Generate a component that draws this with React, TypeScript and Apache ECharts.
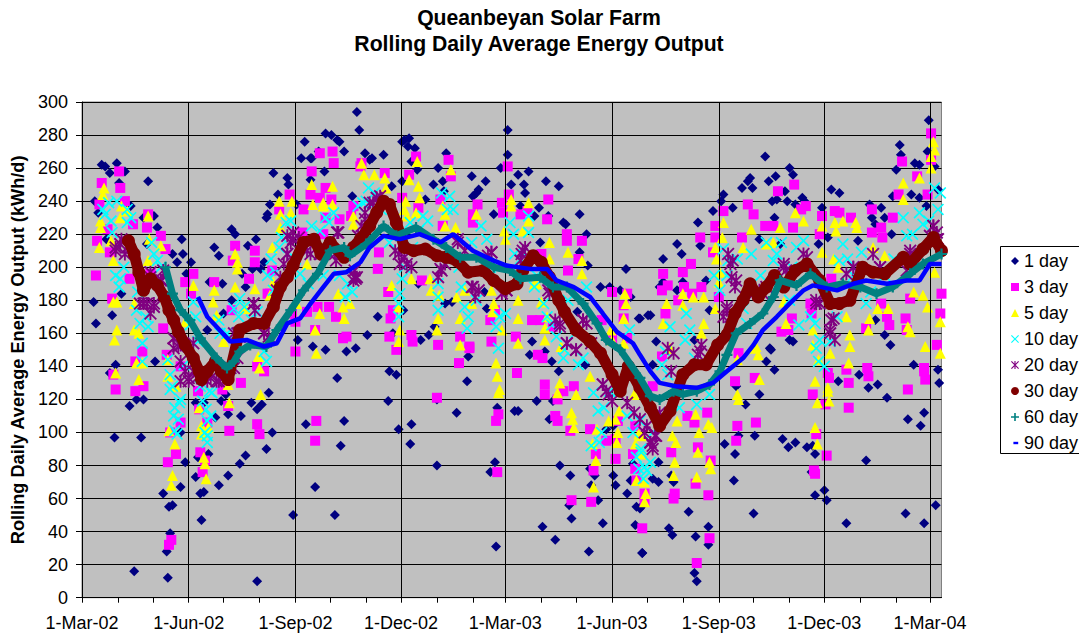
import React, { useEffect, useRef } from "react";
import * as echarts from "echarts";

const TICK_DAYS = [0, 92, 184, 275, 365, 457, 549, 640, 731];
const TICK_LABELS = ["1-Mar-02", "1-Jun-02", "1-Sep-02", "1-Dec-02", "1-Mar-03", "1-Jun-03", "1-Sep-03", "1-Dec-03", "1-Mar-04"];
const MONTH_DAYS = [0, 31, 61, 92, 122, 153, 184, 214, 245, 275, 306, 337, 365, 396, 426, 457, 487, 518, 549, 579, 610, 640, 671, 702, 731];
const SERIES_NAMES = ["1 day", "3 day", "5 day", "10 day", "20 day", "30 day", "60 day", "90 day"];

const day1 = [[17,262],[20,261],[24,257],[30,263],[37,258],[32,251],[57,252],[11,240],[14,233],[42,237],[53,230],[62,231],[65,224],[21,217],[56,214],[86,217],[78,208],[87,208],[82,203],[94,203],[90,196],[34,184],[10,179],[12,166],[26,171],[108,162],[122,172],[129,180],[121,190],[110,191],[141,188],[129,223],[132,220],[114,212],[118,207],[143,213],[150,217],[157,203],[154,199],[147,199],[138,196],[165,257],[177,254],[178,250],[169,244],[162,238],[160,232],[159,230],[185,238],[189,266],[192,276],[197,266],[198,266],[204,270],[210,281],[215,280],[220,277],[222,276],[226,270],[209,258],[197,253],[233,243],[237,294],[239,283],[186,156],[199,152],[210,150],
[29,141],[24,136],[63,143],[28,97],[51,97],[41,116],[47,120],[53,120],[220,133],[228,149],[236,151],[193,105],[226,107],[223,92],[201,67],[182,50],[218,50],[151,10],[45,16],[74,12],[73,28],[76,39],[70,63],[75,55],[78,56],[85,67],[89,82],[85,100],[98,73],[102,63],[105,64],[103,47],[118,68],[126,74],[136,81],[141,86],[159,90],[164,100],[161,124],[155,117],[151,114],[146,118],[137,110],[126,111],[115,109],[120,119],[124,123],[98,118],[105,118],[100,85],[109,87],
[276,276],[278,277],[282,278],[281,273],[287,272],[244,269],[250,266],[248,265],[260,268],[284,264],[289,259],[314,269],[307,260],[311,252],[276,252],[303,250],[312,246],[296,241],[267,249],[367,283],[367,268],[361,260],[376,256],[385,258],[400,252],[411,249],[370,250],[381,250],[382,245],[336,255],[348,252],[342,247],[340,245],[337,243],[378,237],[394,236],[390,231],[402,231],[355,232],[429,232],[415,227],[417,226],[435,220],[395,215],[429,209],[436,201],[447,188],[455,188],[464,186],[473,182],[480,169],[469,199],[313,178],[319,179],[347,185],[349,175],[290,190],[255,170],[304,164],[299,159],[292,156],[246,159],[268,160],[277,174],[388,155],[427,173],[488,171],
[265,137],[271,135],[264,119],[273,102],[284,105],[283,93],[306,80],[306,120],[323,112],[332,131],[333,146],[356,82],[352,76],[357,31],[358,115],[373,113],[376,113],[392,119],[406,119],[403,108],[412,80],[421,74],[438,78],[442,74],[439,68],[445,59],[420,56],[422,48],[397,43],[408,35],[437,28],[449,45],[458,74],[460,68],[470,63],[478,55],[481,54],[477,44],[483,27],[475,81],[473,71],[386,147],[399,149],[434,141],[452,102],[458,104],[405,143],[411,137],
[730,289],[705,274],[706,268],[729,270],[718,263],[722,262],[702,259],[735,261],[589,267],[610,260],[613,256],[576,254],[574,252],[578,248],[569,248],[553,244],[551,240],[561,236],[598,255],[592,252],[606,246],[595,240],[599,241],[608,240],[615,238],[621,242],[623,240],[597,230],[544,234],[531,227],[513,214],[517,208],[501,205],[533,213],[501,191],[498,188],[538,192],[513,186],[518,191],[490,171],[481,169],[541,174],[495,155],[528,156],[646,247],[653,245],[638,236],[643,218],[669,216],[679,238],[689,236],[681,230],[692,230],[684,226],[699,243],[715,244],[722,242],[728,237],[738,247],[698,220],[584,217],[602,214],[635,214],[684,168],[692,159],[697,153],[610,156],[613,155],[593,151],
[492,141],[594,150],[590,143],[597,138],[564,128],[584,123],[572,117],[554,93],[563,87],[566,98],[580,98],[562,71],[579,51],[604,96],[609,91],[615,94],[625,91],[630,92],[632,87],[629,76],[676,83],[632,62],[640,65],[642,59],[659,45],[710,51],[726,45],[736,56],[712,108],[723,104],[726,112],[694,121],[678,127],[686,129],[670,135],[652,131],[717,141],[738,138],[739,130],[497,82],[497,70],[510,70],[508,74],[492,72],[482,55],[523,52],[506,42],[509,38],[529,37],[540,43],[540,32],[483,27],[528,15],[530,10]];

const day3 = [[32,258],[17,251],[33,248],[37,240],[15,238],[57,232],[44,226],[56,224],[22,223],[68,219],[13,216],[72,211],[24,209],[12,195],[41,193],[59,196],[26,181],[96,196],[89,191],[94,184],[114,191],[132,213],[149,210],[149,203],[130,204],[144,193],[164,198],[162,184],[160,184],[129,174],[70,163],[181,172],[184,167],[194,173],[203,176],[213,176],[219,170],[225,157],[228,158],[201,162],[205,269],[216,270],[217,263],[198,258],[210,248],[197,244],[205,242],[215,241],[179,244],[170,235],[191,235],[210,230],[222,229],[208,220],[190,221],[234,237],[232,231],[240,261],
[27,135],[29,126],[46,143],[52,149],[53,128],[46,125],[73,147],[85,106],[76,100],[81,87],[74,82],[77,35],[75,32],[102,88],[106,83],[104,76],[100,125],[101,114],[121,126],[126,116],[137,130],[127,101],[151,105],[153,99],[151,140],[157,137],[184,149],[202,107],[201,95],[85,140],[108,106],
[288,267],[316,265],[318,255],[367,261],[282,256],[241,263],[261,257],[276,242],[290,236],[309,241],[341,238],[362,239],[363,233],[368,244],[378,232],[402,241],[401,229],[384,234],[418,220],[418,216],[431,216],[428,205],[419,198],[396,208],[256,209],[255,199],[293,192],[264,185],[268,174],[266,169],[284,159],[285,155],[265,158],[307,153],[326,158],[334,152],[353,155],[374,158],[352,168],[388,168],[395,168],[356,174],[337,232],[337,227],[311,225],[457,185],[470,184],[467,177],[467,169],[448,168],[457,157],[470,157],[406,164],
[271,150],[325,142],[334,151],[375,136],[306,121],[359,111],[357,107],[358,76],[393,147],[397,145],[399,129],[399,123],[415,125],[424,128],[410,120],[408,110],[410,107],[421,101],[438,102],[452,95],[460,96],[460,84],[462,107],[443,87],[441,77],[422,59],[439,58],[477,104],[475,87],[477,78],[478,71],[485,63],[485,58],[483,42],
[732,281],[732,265],[707,264],[720,255],[704,244],[729,244],[600,246],[614,250],[574,238],[579,232],[553,234],[546,225],[546,218],[533,218],[544,209],[569,218],[589,225],[596,225],[624,237],[620,235],[613,224],[638,231],[649,234],[653,233],[663,230],[636,220],[681,221],[689,224],[690,218],[681,235],[699,230],[525,202],[501,196],[518,197],[505,189],[500,186],[519,188],[526,184],[534,188],[514,180],[503,172],[741,184],[714,181],[740,172],[710,169],[711,162],[694,170],[696,165],[676,163],[689,178],[612,169],[603,161],[609,162],[549,182],[628,178],[629,172],[646,193],
[500,146],[566,148],[563,131],[580,133],[539,112],[522,110],[528,106],[565,104],[581,106],[564,95],[531,91],[508,88],[542,83],[529,69],[511,63],[510,60],[540,62],[541,36],[530,21],[492,128],[630,123],[641,117],[643,136],[644,133],[659,138],[661,130],[661,115],[677,139],[678,134],[712,126],[726,139],[726,137],[727,132],[633,99],[642,86],[631,77],[632,75],[737,153]];

const day5 = [[19,248],[18,244],[16,228],[16,224],[15,212],[34,237],[39,234],[33,230],[25,216],[27,204],[57,231],[58,217],[68,213],[57,204],[96,189],[114,186],[113,179],[132,208],[134,203],[134,199],[132,188],[149,187],[162,183],[165,191],[170,240],[171,232],[164,212],[171,224],[181,240],[180,233],[198,250],[199,238],[208,239],[208,237],[216,249],[216,238],[234,231],[234,226],[194,202],[185,178],[205,172],[226,169],[225,176],[221,184],[231,178],[201,162],[30,179],[27,179],[45,178],[30,162],[28,156],[45,162],[49,160],[89,167],[116,171],[122,155],[141,175],
[29,136],[47,142],[49,132],[52,142],[74,144],[74,134],[81,128],[75,101],[80,93],[78,74],[77,68],[101,115],[103,104],[103,99],[109,103],[105,85],[106,81],[107,72],[126,129],[127,118],[152,146],[153,139],[154,123],[202,148],
[241,263],[243,256],[252,256],[261,254],[262,248],[289,264],[290,249],[282,253],[291,242],[279,240],[278,235],[280,231],[288,233],[318,259],[311,237],[313,232],[313,225],[322,224],[340,232],[370,241],[370,237],[385,239],[364,222],[365,217],[380,222],[385,228],[403,215],[403,205],[419,209],[431,204],[431,196],[390,190],[284,193],[267,189],[273,176],[274,162],[273,155],[307,169],[306,162],[300,193],[301,186],[308,183],[323,182],[330,186],[336,178],[326,169],[326,153],[353,186],[354,173],[355,178],[362,162],[376,169],[376,180],[376,154],[399,163],[399,156],[413,152],[456,162],[467,169],[469,178],[468,184],[457,156],[467,154],[392,190],[396,179],[401,170],
[357,142],[358,134],[360,126],[359,124],[438,134],[412,130],[410,124],[426,123],[422,112],[423,108],[424,103],[463,113],[460,108],[444,102],[462,100],[461,94],[440,93],[443,83],[441,67],[480,99],[477,93],[482,88],[478,71],[486,63],[485,58],[485,70],[454,107],[476,123],
[734,276],[735,271],[732,267],[732,260],[722,254],[708,251],[708,241],[615,233],[622,228],[577,223],[602,224],[596,215],[590,214],[638,225],[649,227],[656,228],[667,227],[668,224],[650,222],[553,227],[552,218],[546,212],[547,205],[570,212],[550,197],[549,191],[546,175],[648,205],[652,200],[682,212],[692,207],[638,209],[735,197],[725,183],[729,176],[740,167],[712,164],[714,161],[695,175],[686,175],[679,169],[678,162],[662,159],[662,152],[630,162],[607,166],[605,179],[504,178],[518,184],[518,177],[527,182],[536,182],[501,166],[536,166],[534,160],[727,152],[659,170],[581,152],[630,153],[717,185],
[507,151],[513,107],[509,98],[512,94],[511,82],[510,74],[529,111],[532,100],[531,88],[530,73],[540,105],[543,103],[541,82],[542,78],[565,123],[566,120],[565,144],[580,151],[583,147],[584,132],[632,131],[643,127],[643,125],[634,118],[644,119],[632,103],[634,93],[645,148],[661,142],[635,144],[740,148],[482,87],[482,98]];

const day10 = [[23,239],[20,232],[26,221],[39,235],[39,227],[36,200],[29,195],[33,193],[32,188],[47,174],[50,166],[57,164],[52,154],[62,208],[65,204],[96,179],[98,170],[118,168],[119,160],[136,181],[135,170],[151,173],[167,197],[165,186],[172,218],[176,227],[180,228],[188,196],[198,225],[213,227],[217,233],[208,195],[229,190],[227,182],[238,237],
[52,143],[74,144],[88,141],[76,126],[80,115],[85,120],[79,110],[82,99],[80,101],[104,119],[108,107],[111,110],[108,98],[108,94],[102,128],[112,124],[159,143],[157,149],
[247,248],[242,239],[317,243],[320,235],[294,231],[283,227],[344,225],[349,217],[369,227],[385,231],[385,221],[373,208],[276,193],[274,184],[273,178],[273,170],[307,190],[307,182],[307,174],[327,188],[330,176],[333,170],[332,163],[365,172],[357,164],[390,188],[398,178],[401,170],[409,158],[435,188],[419,180],[472,162],
[359,151],[415,145],[428,141],[441,124],[445,113],[446,94],[439,92],[481,107],[482,88],[485,79],[487,77],
[553,211],[557,204],[550,186],[577,208],[599,208],[596,204],[622,216],[616,212],[610,180],[656,214],[653,204],[672,209],[708,230],[711,219],[722,233],[725,226],[735,248],[738,235],[507,164],[521,172],[524,162],[520,156],[632,166],[636,156],[676,178],[651,170],[573,166],
[503,149],[500,141],[492,100],[490,82],[482,90],[530,117],[541,123],[515,115],[635,143],[633,151],
[18,235],[25,228],[30,240],[42,230],[48,185],[55,170],[60,215],[68,200],[76,135],[78,128],[83,108],[84,118],[106,100],[107,114],[110,125],[93,165],[100,155],[125,160],[131,175],[140,176],[146,168],[160,195],[163,205],[170,212],[184,205],[195,190],[205,222],[210,230],[222,195],[233,185],[245,240],[252,245],[258,235],[265,215],[278,200],[285,212],[290,222],[298,228],[310,245],[315,235],[325,200],[336,215],[340,180],[352,200],[360,170],[372,220],[378,205],[392,195],[405,165],[416,150],[425,160],[432,145],[448,100],[450,115],[455,125],[462,125],[470,110],[475,100],[478,85],[480,78],[484,72],[505,135],[512,125],[528,145],[545,195],[556,195],[565,205],[570,175],[585,195],[590,215],[603,215],[612,200],[618,165],[628,170],[640,140],[645,155],[660,205],[665,195],[680,185],[692,195],[700,205],[716,220],[730,228],[740,245]];

const day20 = [[33,214],[29,210],[39,212],[59,194],[69,192],[53,178],[62,178],[79,157],[85,153],[92,133],[85,131],[96,137],[108,131],[118,131],[131,139],[125,133],[134,160],[148,178],[157,160],[177,208],[174,202],[182,217],[197,208],[220,221],[219,204],[237,194],[251,239],[244,229],[235,194],[257,243],[273,208],[280,202],[309,199],[324,215],[337,188],[353,209],[366,186],[380,210],[403,184],[412,166],[432,168],[418,154],[426,150],[452,125],[449,129],[492,92],[490,94],[495,98],[508,137],[533,149],[553,170],[559,202],[564,192],[556,176],[579,184],[587,184],[605,200],[625,206],[633,178],[645,160],[648,169],[665,200],[688,200],[734,225],[737,217],[714,210],
[29,212],[34,217],[37,208],[59,197],[68,192],[70,198],[50,178],[56,178],[62,176],[59,172],[79,157],[83,152],[96,154],[131,160],[136,158],[148,178],[149,174],[157,160],[161,158],[177,219],[180,215],[182,221],[187,218],[171,194],[177,208],[168,186],[194,210],[221,221],[218,208],[205,208],[236,193],
[248,239],[254,242],[244,233],[241,225],[238,219],[235,198],[234,192],[270,210],[274,202],[278,206],[284,200],[310,198],[313,202],[307,194],[324,217],[330,210],[336,188],[342,186],[339,182],[353,209],[350,207],[366,186],[362,184],[382,212],[379,208],[378,204],[402,186],[408,168],[412,164],[418,154],[432,168],[435,166],[439,154],
[79,151],[85,143],[89,137],[92,131],[99,133],[111,133],[116,131],[122,133],[128,139],[134,145],[426,150],[449,129],[454,123],[457,119],[505,151],[510,148],[490,94],[492,90],[494,98],[498,112],[531,147],[534,153],[487,104],[464,130],[470,118],[476,112],[481,108],[485,100],
[557,208],[561,204],[560,194],[563,188],[556,174],[559,170],[579,184],[584,186],[590,188],[605,202],[607,198],[622,208],[633,180],[636,178],[646,168],[645,162],[649,156],[665,200],[659,196],[669,192],[688,200],[682,208],[734,225],[737,221],[738,217],[731,219],[714,208],[711,198]];

const day30 = [[40,216],[45,208],[49,197],[53,186],[59,193],[65,189],[71,182],[75,174],[79,168],[83,161],[89,153],[96,145],[101,137],[103,132],[108,137],[115,143],[120,137],[126,132],[136,162],[148,166],[157,166],[165,176],[171,188],[177,194],[182,201],[191,215],[200,217],[206,208],[214,215],[226,206],[234,212],[240,217],[248,225],[254,233],[260,240],[265,238],[271,227],[278,212],[286,210],[296,211],[306,207],[314,206],[323,204],[333,197],[346,198],[355,192],[365,187],[375,190],[380,198],[389,207],[396,203],[403,194],[411,180],[416,173],[426,162],[438,155],[447,148],[457,135],[464,125],[471,140],[481,127],[490,115],[498,104],[507,113],[518,135],[528,141],[538,141],[548,153],[556,159],[563,172],[570,180],[576,190],[583,182],[590,188],[597,195],[605,188],[615,198],[625,202],[636,192],[645,178],[653,178],[662,180],[673,200],[682,197],[692,196],[708,206],[714,202],[725,211],[734,218],[741,210]];

const day60 = [[72,200],[78,184],[85,174],[93,168],[102,157],[116,145],[125,139],[131,143],[136,149],[145,153],[159,152],[168,162],[180,174],[191,186],[203,196],[214,210],[226,212],[231,207],[245,214],[260,225],[271,219],[288,224],[303,217],[314,212],[326,206],[340,206],[355,200],[369,198],[378,193],[395,194],[406,188],[418,188],[432,178],[444,166],[452,156],[464,150],[481,133],[490,122],[498,120],[510,125],[518,123],[530,125],[541,129],[550,137],[556,147],[564,160],[576,166],[587,172],[596,182],[602,192],[616,189],[628,196],[642,188],[656,190],[671,188],[685,184],[699,188],[714,196],[725,202],[741,208]];

const day90 = [[100,182],[108,170],[116,164],[128,155],[142,156],[157,152],[168,154],[177,166],[188,169],[197,178],[208,188],[217,196],[228,197],[240,203],[248,212],[260,219],[274,217],[291,220],[309,215],[320,220],[337,210],[355,204],[366,201],[386,199],[401,199],[409,192],[424,188],[438,182],[449,172],[461,161],[475,154],[481,147],[490,137],[498,130],[512,128],[530,127],[544,130],[556,137],[570,145],[579,153],[587,162],[599,170],[610,178],[622,186],[630,189],[651,186],[665,190],[676,192],[694,190],[711,192],[722,192],[731,202],[741,202]];

const X_PATH = "path://M1 0L5 4L9 0L10 1L6 5L10 9L9 10L5 6L1 10L0 9L4 5L0 1Z";
const STAR_PATH = "path://M1 0L10 9L9 10L0 1ZM9 0L10 1L1 10L0 9ZM4.3 0L5.7 0L5.7 10L4.3 10Z";
const PLUS_PATH = "path://M4 0L6 0L6 4L10 4L10 6L6 6L6 10L4 10L4 6L0 6L0 4L4 4Z";
const DASH_PATH = "path://M0 0L0 0M0 10L0 10M2 3.5L8 3.5L8 6.5L2 6.5Z";
const FONT = "Liberation Sans";

export default function App() {
  const ref = useRef<HTMLDivElement>(null);
  useEffect(() => {
    const chart = echarts.init(ref.current!, null, { renderer: "svg" });
    const scatter = (name: string, data: number[][], symbol: string, size: number, color: string, z: number) => ({
      name, type: "scatter", data, symbol, symbolSize: size, z,
      itemStyle: { color, opacity: 1 },
      emphasis: { disabled: true },
    });
    const line = (name: string, data: number[][], symbol: string, size: number, width: number, color: string, z: number) => ({
      name, type: "line", data, symbol, symbolSize: size, showSymbol: symbol !== "none", showAllSymbol: true, z,
      lineStyle: { color, width }, itemStyle: { color, opacity: 1 },
      emphasis: { disabled: true },
    });
    chart.setOption({
      animation: false,
      backgroundColor: "#fff",
      textStyle: { fontFamily: FONT },
      title: {
        text: "Queanbeyan Solar Farm\nRolling Daily Average Energy Output",
        left: 534, top: -1, textAlign: "center",
        textStyle: { fontFamily: FONT, fontSize: 21.2, fontWeight: "bold", color: "#000", lineHeight: 26 },
      },
      grid: { left: 82, right: 137.5, top: 102, bottom: 39.3, show: true, backgroundColor: "#C0C0C0", borderColor: "#808080", borderWidth: 1 },
      xAxis: {
        type: "value", min: 0, max: 741,
        axisLine: { show: true, onZero: false, lineStyle: { color: "#000" } },
        axisTick: { show: true, length: 5, customValues: MONTH_DAYS, lineStyle: { color: "#000" } },
        axisLabel: {
          show: true, customValues: TICK_DAYS, fontFamily: FONT, fontSize: 18, color: "#000", margin: 16,
          formatter: (v: number) => TICK_LABELS[TICK_DAYS.indexOf(v)] ?? "",
        },
        splitLine: { show: false },
      },
      yAxis: {
        type: "value", min: 0, max: 300, interval: 20,
        name: "Rolling Daily Average Energy Output (kWh/d)", nameLocation: "middle", nameGap: 53,
        nameTextStyle: { fontFamily: FONT, fontSize: 18.2, fontWeight: "bold", color: "#000" },
        axisLine: { show: true, lineStyle: { color: "#000" } },
        axisTick: { show: true, length: 6, lineStyle: { color: "#000" } },
        axisLabel: { fontFamily: FONT, fontSize: 18, color: "#000", margin: 14 },
        splitLine: { show: true, lineStyle: { color: "#000", width: 1 } },
      },
      legend: {
        orient: "vertical", left: 1006, top: 247, itemWidth: 8, itemHeight: 8, itemGap: 8,
        selectedMode: false,
        textStyle: { fontFamily: FONT, fontSize: 18, color: "#000", height: 18, lineHeight: 18 },
        data: [
          { name: SERIES_NAMES[0], icon: "diamond" },
          { name: SERIES_NAMES[1], icon: "rect" },
          { name: SERIES_NAMES[2], icon: "triangle" },
          { name: SERIES_NAMES[3], icon: X_PATH },
          { name: SERIES_NAMES[4], icon: STAR_PATH },
          { name: SERIES_NAMES[5], icon: "circle" },
          { name: SERIES_NAMES[6], icon: PLUS_PATH },
          { name: SERIES_NAMES[7], icon: DASH_PATH },
        ],
      },
      graphic: [{
        type: "rect", shape: { x: 1000.5, y: 246.5, width: 100, height: 207 }, z: -1,
        style: { fill: "#fff", stroke: "#000", lineWidth: 1 },
      }],
      series: [
        {
          name: "grid", type: "scatter", data: [], z: 1, silent: true,
          markLine: {
            silent: true, symbol: "none", label: { show: false }, animation: false,
            lineStyle: { color: "#000", width: 1, type: "solid" },
            data: TICK_DAYS.filter((d) => d > 0).map((d) => ({ xAxis: d })),
          },
        },
        scatter(SERIES_NAMES[0], day1, "diamond", 10, "#000080", 2),
        scatter(SERIES_NAMES[1], day3, "rect", 10, "#FF00FF", 3),
        scatter(SERIES_NAMES[2], day5, "triangle", 11, "#FFFF00", 4),
        scatter(SERIES_NAMES[3], day10, X_PATH, 12, "#00FFFF", 5),
        scatter(SERIES_NAMES[4], day20, STAR_PATH, 13, "#800080", 6),
        line(SERIES_NAMES[5], day30, "circle", 13, 11, "#800000", 7),
        line(SERIES_NAMES[6], day60, PLUS_PATH, 11, 7, "#008080", 8),
        line(SERIES_NAMES[7], day90, "none", 0, 4.5, "#0000FF", 9),
      ],
    });
    return () => chart.dispose();
  }, []);
  return <div ref={ref} style={{ position: "absolute", left: 0, top: 0, width: 1079, height: 637, overflow: "hidden" }} />;
}
